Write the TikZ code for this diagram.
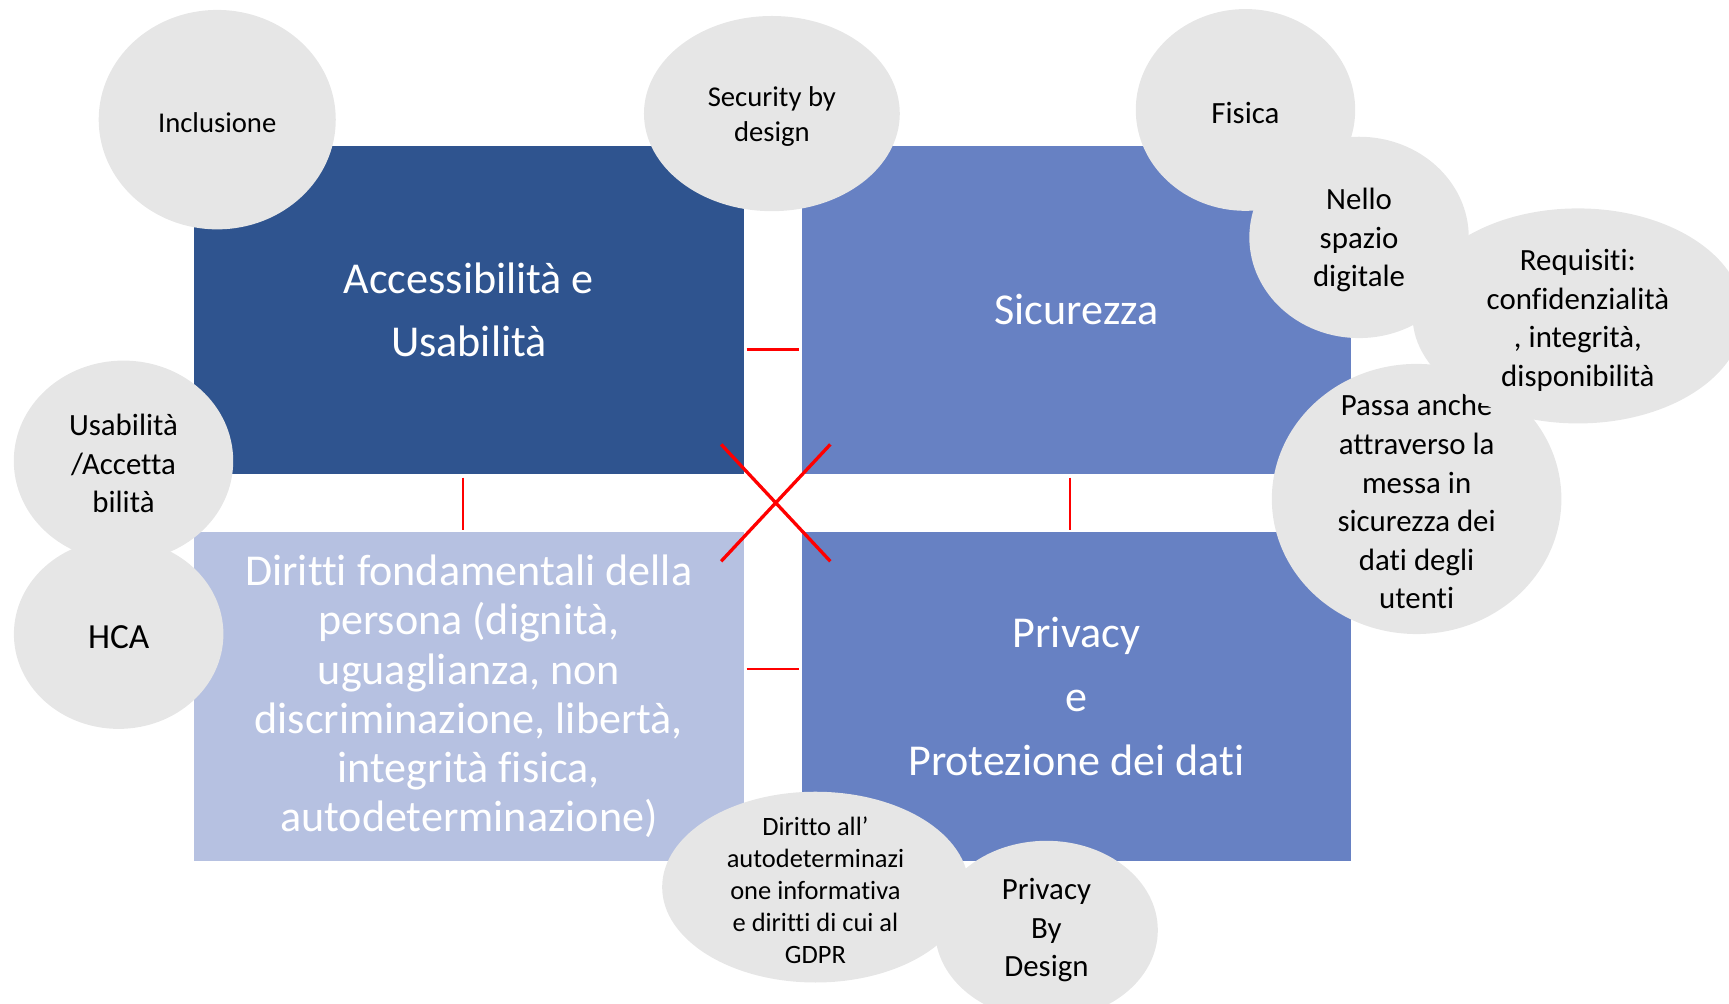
\documentclass[tikz,border=0pt]{standalone}
\usepackage{fontspec}
\setmainfont{Carlito}[Ligatures={NoCommon}]
\usetikzlibrary{shapes.geometric}
\definecolor{accblue}{RGB}{47,84,143}
\definecolor{midblue}{RGB}{103,129,195}
\definecolor{paleblue}{RGB}{182,193,225}
\definecolor{bubgray}{RGB}{230,230,230}

\begin{document}
\begin{tikzpicture}[x=1pt,y=-1pt,
  quad/.style={rectangle,minimum width=498.4pt,minimum height=298pt,inner sep=0pt,align=center,text=white,font=\fontsize{40}{58}\selectfont},
  bubble/.style={ellipse,fill=bubgray,inner sep=0pt},
  bubtext/.style={align=center,inner sep=0pt,yshift=-2.5pt,font=\fontsize{28}{35}\selectfont},
  redsep/.style={red,line width=2pt},
  redcross/.style={red,line width=3pt}]
\useasboundingbox (0,0) rectangle (1568,910.5);
\node[quad,fill=accblue] (acc) at (425.2,281) {Accessibilità e\\Usabilità};
\node[quad,fill=midblue] (sic) at (976.2,281) {Sicurezza};
\node[quad,fill=paleblue,font=\fontsize{40}{44.6}\selectfont] (dir) at (425.2,631.5) {Diritti fondamentali della\\persona (dignità,\\uguaglianza, non\\discriminazione, libertà,\\integrità fisica,\\autodeterminazione)};
\node[quad,fill=midblue] (priv) at (976.2,631.5) {Privacy\\e\\Protezione dei dati};
\draw[redsep,shorten <=2.6pt,shorten >=2.4pt] ([yshift=-36pt]acc.east) -- ([yshift=-36pt]sic.west);
\draw[redsep,shorten <=2.6pt,shorten >=2.4pt] ([yshift=25pt]dir.east) -- ([yshift=25pt]priv.west);
\draw[redsep,shorten <=3pt,shorten >=2pt] ([xshift=-5pt]acc.south) -- ([xshift=-5pt]dir.north);
\draw[redsep,shorten <=3pt,shorten >=2pt] ([xshift=-6pt]sic.south) -- ([xshift=-6pt]priv.north);
\draw[redcross] (654,403) -- (753,509) (753,403) -- (654,509);
\node[bubble,minimum width=215pt,minimum height=199pt] (incl) at (197,108.5) {};
\node[bubtext,font=\fontsize{26}{31.5}\selectfont] (tincl) at (incl) {Inclusione};
\node[bubble,minimum width=232pt,minimum height=177pt] (sbd) at (700,103) {};
\node[bubtext,font=\fontsize{26}{31.5}\selectfont] (tsbd) at (sbd) {Security by\\design};
\node[bubble,minimum width=199pt,minimum height=183pt] (fis) at (1129.5,99.7) {};
\node[bubtext] (tfis) at (fis) {Fisica};
\node[bubble,minimum width=199pt,minimum height=182.6pt] (nel) at (1232.5,215.3) {};
\node[bubtext] (tnel) at (nel) {Nello\\spazio\\digitale};
\node[bubble,minimum width=262.6pt,minimum height=245pt] (pas) at (1284.7,452.5) {};
\node[bubtext] (tpas) at (pas) {Passa anche\\attraverso la\\messa in\\sicurezza dei\\dati degli\\utenti};
\node[bubble,minimum width=300pt,minimum height=195pt] (req) at (1431,286.5) {};
\node[bubtext,yshift=-1.5pt] (treq) at (req) {Requisiti:\\confidenzialità\\, integrità,\\disponibilità};
\node[bubble,minimum width=199pt,minimum height=182pt] (usa) at (112,418) {};
\node[bubtext] (tusa) at (usa) {Usabilità\\/Accetta\\bilità};
\node[bubble,minimum width=190pt,minimum height=172pt] (hca) at (107.6,575) {};
\node[bubtext,font=\fontsize{32}{38}\selectfont] (thca) at (hca) {HCA};
\node[bubble,minimum width=278pt,minimum height=173pt] (dto) at (739.5,804.5) {};
\node[bubtext,font=\fontsize{24}{29}\selectfont] (tdto) at (dto) {Diritto all’\\autodeterminazi\\one informativa\\e diritti di cui al\\GDPR};
\node[bubble,minimum width=202pt,minimum height=162pt] (pbd) at (949,843.5) {};
\node[bubtext] (tpbd) at (949,841) {Privacy\\By\\Design};
\end{tikzpicture}
\end{document}
